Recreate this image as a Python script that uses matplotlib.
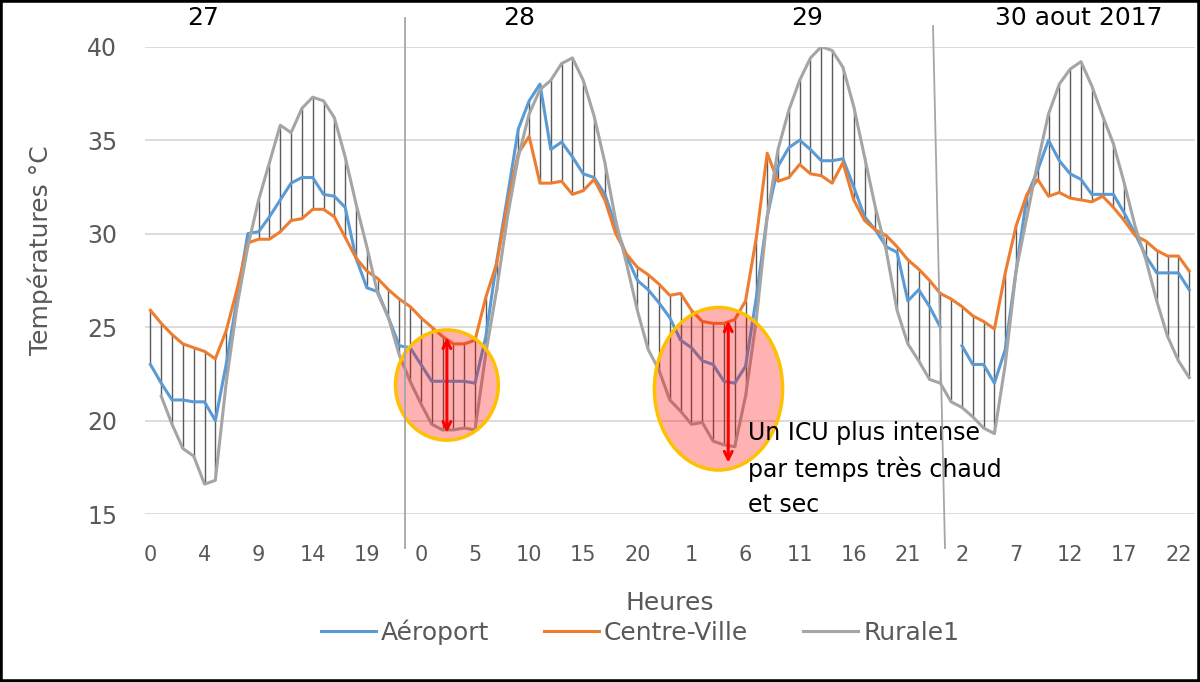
import numpy as np
import matplotlib
matplotlib.use('Agg')
from matplotlib import pyplot as plt
from matplotlib import transforms
from matplotlib.patches import Ellipse, Rectangle
from matplotlib.lines import Line2D

nan = np.nan

# hours on the category axis: day 27 starts with an extra "0" reading
hours = [0] + list(range(24)) + list(range(24)) * 3
day_labels = ['27', '28', '29', '30 aout 2017']
day_label_x = [4.85, 34.1, 60.7, 85.8]

aeroport = [23.0, 22.0, 21.1, 21.1, 21.0, 21.0, 20.0, 23.0, 26.5, 30.0,
            30.1, 30.9, 31.8, 32.7, 33.0, 33.0, 32.1, 32.0, 31.4, 28.7,
            27.1, 26.9, 25.5, 24.0, 23.9, 23.0, 22.1, 22.1, 22.1, 22.1,
            22.0, 24.5, 28.5, 32.0, 35.6, 37.1, 38.0, 34.5, 34.9, 34.1,
            33.2, 33.0, 32.1, 30.4, 28.8, 27.5, 27.0, 26.3, 25.5, 24.3,
            23.9, 23.2, 23.0, 22.1, 22.0, 22.9, 26.6, 30.9, 33.6, 34.6,
            35.0, 34.5, 33.9, 33.9, 34.0, 32.5, 30.9, 30.2, 29.3, 29.0,
            26.4, 27.0, 26.1, 25.0, nan, 24.0, 23.0, 23.0, 22.0, 23.8,
            28.0, 32.0, 33.4, 35.0, 33.9, 33.2, 32.9, 32.1, 32.1, 32.1,
            31.1, 30.0, 28.8, 27.9, 27.9, 27.9, 27.0]
centre_ville = [25.9, 25.2, 24.6, 24.1, 23.9, 23.7, 23.3, 24.8, 27.0, 29.5,
                29.7, 29.7, 30.1, 30.7, 30.8, 31.3, 31.3, 30.9, 29.8, 28.7,
                28.0, 27.6, 27.0, 26.5, 26.1, 25.5, 25.0, 24.5, 24.1, 24.1,
                24.3, 26.6, 28.4, 31.6, 34.3, 35.2, 32.7, 32.7, 32.8, 32.1,
                32.3, 32.9, 31.8, 30.0, 28.9, 28.2, 27.8, 27.3, 26.7, 26.8,
                25.9, 25.3, 25.2, 25.2, 25.4, 26.4, 29.8, 34.3, 32.8, 33.0,
                33.7, 33.2, 33.1, 32.7, 33.8, 31.8, 30.7, 30.2, 29.9, 29.3,
                28.6, 28.1, 27.5, 26.8, 26.5, 26.1, 25.6, 25.3, 24.9, 27.9,
                30.4, 32.1, 32.9, 32.0, 32.2, 31.9, 31.8, 31.7, 32.0, 31.4,
                30.7, 29.9, 29.6, 29.1, 28.8, 28.8, 28.0]
rurale1 = [nan, 21.3, 19.8, 18.5, 18.1, 16.6, 16.8, 22.0, 26.1, 29.3,
           31.8, 33.8, 35.8, 35.4, 36.7, 37.3, 37.1, 36.2, 34.1, 31.6,
           29.3, 26.8, 25.5, 23.5, 22.1, 20.9, 19.8, 19.5, 19.5, 19.6,
           19.5, 23.6, 27.0, 30.9, 34.1, 36.4, 37.7, 38.2, 39.1, 39.4,
           38.2, 36.3, 33.8, 30.7, 28.4, 25.9, 23.8, 22.7, 21.1, 20.5,
           19.8, 19.9, 18.9, 18.7, 18.6, 21.3, 25.4, 30.9, 34.5, 36.6,
           38.2, 39.4, 40.0, 39.8, 38.9, 36.8, 34.1, 31.4, 29.1, 25.9,
           24.1, 23.2, 22.2, 22.0, 21.0, 20.7, 20.2, 19.6, 19.3, 23.0,
           28.0, 30.9, 33.8, 36.4, 38.0, 38.8, 39.2, 37.9, 36.3, 34.8,
           32.7, 30.4, 28.6, 26.4, 24.5, 23.2, 22.3]

note = 'Un ICU plus intense\npar temps très chaud\net sec'

grey_txt = '#595959'
x = np.arange(len(hours))
series = np.array([aeroport, centre_ville, rurale1])

fig = plt.figure(figsize=(12, 6.82), dpi=100)
ax = fig.add_axes([145 / 1200, 1 - 514 / 682, 1049.6 / 1200, 467.3 / 682])

# high-low lines between the three stations
ax.vlines(x, np.nanmin(series, axis=0), np.nanmax(series, axis=0),
          color='#5a5a5a', lw=1.0, zorder=2)

ax.plot(x, aeroport, color='#5B9BD5', lw=2.2, label='Aéroport', zorder=3)
ax.plot(x, centre_ville, color='#ED7D31', lw=2.2, label='Centre-Ville', zorder=3)
ax.plot(x, rurale1, color='#A5A5A5', lw=2.2, label='Rurale1', zorder=3)

ax.set_xlim(-0.5, len(hours) - 0.5)
ax.set_ylim(15, 40)
ax.set_yticks(range(15, 41, 5))
ax.set_xticks(x[::5])
ax.set_xticklabels([str(h) for h in hours[::5]])
ax.grid(axis='y', color='#D9D9D9', lw=1.3)
ax.set_axisbelow(True)
for s in ax.spines.values():
    s.set_visible(False)
ax.tick_params(axis='y', length=0, pad=20, labelsize=17, labelcolor=grey_txt)
ax.tick_params(axis='x', length=0, pad=22, labelsize=15, labelcolor=grey_txt)

ax.set_ylabel('Températures °C', fontsize=18, color=grey_txt, va='center')
ax.yaxis.set_label_coords(-0.1, 0.565)
ax.set_xlabel('Heures', fontsize=18, color=grey_txt, va='center')
ax.xaxis.set_label_coords(0.50, -0.19)

# highlighted nights
ax.add_patch(Ellipse((27.4, 21.9), 9.5, 5.9, facecolor=(1, 0, 0, 0.3),
                     edgecolor='#FFC000', lw=2.5, zorder=4))
ax.add_patch(Ellipse((52.5, 21.7), 11.85, 8.7, facecolor=(1, 0, 0, 0.3),
                     edgecolor='#FFC000', lw=2.5, zorder=4))
ax.annotate('', xy=(27.4, 19.2), xytext=(27.4, 24.6),
            arrowprops=dict(arrowstyle='<->', color='red', lw=2.2, mutation_scale=14), zorder=5)
ax.annotate('', xy=(53.4, 17.6), xytext=(53.4, 25.5),
            arrowprops=dict(arrowstyle='<->', color='red', lw=2.2, mutation_scale=14), zorder=5)
ax.text(55.2, 19.95, note, fontsize=17, va='top', ha='left', linespacing=1.55, zorder=6)

# day labels and separators
tr = transforms.blended_transform_factory(ax.transData, fig.transFigure)
for lab, xp in zip(day_labels, day_label_x):
    ax.text(xp, 1 - 18 / 682, lab, transform=tr, ha='center', va='center',
            fontsize=18, clip_on=False)
fig.add_artist(Line2D([405 / 1200, 405 / 1200], [1 - 18 / 682, 1 - 548 / 682],
                      color='#A6A6A6', lw=1.3))
fig.add_artist(Line2D([933 / 1200, 945 / 1200], [1 - 26 / 682, 1 - 548 / 682],
                      color='#A6A6A6', lw=1.3))

leg = fig.legend(loc='center', bbox_to_anchor=(640 / 1200, 1 - 632 / 682), ncol=3,
                 frameon=False, fontsize=18, handlelength=2.2, columnspacing=2.2,
                 handletextpad=0.2)
for t in leg.get_texts():
    t.set_color(grey_txt)

fig.add_artist(Rectangle((0, 0), 1, 1, transform=fig.transFigure, fill=False,
                         edgecolor='black', lw=4))

fig.savefig('out.png', dpi=100, facecolor='white')
